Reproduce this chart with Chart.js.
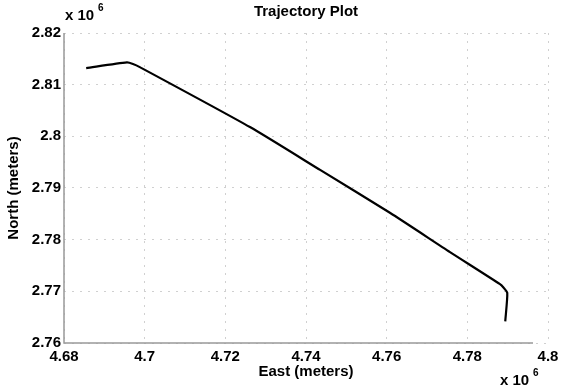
<!DOCTYPE html>
<html><head><meta charset="utf-8">
<script src="https://cdn.jsdelivr.net/npm/chart.js@4/dist/chart.umd.min.js"></script>
<style>html,body{margin:0;padding:0;background:#fff}#wrap{width:568px;height:389px}</style>
</head><body><div id="wrap"><canvas id="c" width="568" height="389"></canvas></div>
<script>
// East / North in units of 10^6 meters
const eastValues = [4.6855, 4.6956, 4.6971, 4.6988, 4.7261, 4.7435, 4.7608, 4.7757, 4.7881, 4.7889, 4.7899, 4.7894];
const northValues = [2.8132, 2.8143, 2.8140, 2.8134, 2.8018, 2.7935, 2.7852, 2.7776, 2.7714, 2.7708, 2.7697, 2.7642];
const xTicks = [4.68, 4.70, 4.72, 4.74, 4.76, 4.78, 4.80];
const yTicks = [2.76, 2.77, 2.78, 2.79, 2.80, 2.81, 2.82];
const titleText = 'Trajectory Plot';
const xTitle = 'East (meters)';
const yTitle = 'North (meters)';

const pts = eastValues.map((x, i) => ({x: x, y: northValues[i]}));
const FONT = '"Liberation Sans", Arial, sans-serif';
const fmt = v => String(parseFloat(Number(v).toFixed(2)));

const deco = {
  id: 'deco',
  afterDraw(chart) {
    const ctx = chart.ctx, a = chart.chartArea;
    ctx.save();
    ctx.fillStyle = '#000';
    ctx.font = 'bold 15px ' + FONT;
    ctx.textAlign = 'center'; ctx.textBaseline = 'middle';
    ctx.fillText(titleText, (a.left + a.right) / 2, 12);
    // exponent labels
    ctx.textAlign = 'left';
    ctx.fillText('x 10', a.left + 1, 16);
    ctx.font = 'bold 10px ' + FONT;
    ctx.fillText('6', a.left + 34, 8);
    ctx.font = 'bold 15px ' + FONT;
    ctx.fillText('x 10', 500, 381);
    ctx.font = 'bold 10px ' + FONT;
    ctx.fillText('6', 533, 373);
    // axis lines
    ctx.strokeStyle = '#999'; ctx.lineWidth = 1.5;
    ctx.beginPath();
    ctx.moveTo(a.left, a.top); ctx.lineTo(a.left, a.bottom); ctx.lineTo(a.right - 15, a.bottom);
    ctx.stroke();
    ctx.restore();
  }
};

new Chart(document.getElementById('c'), {
  type: 'scatter',
  data: { datasets: [{ data: pts, showLine: true, borderColor: '#000', borderWidth: 2.2,
    pointRadius: 0, tension: 0.2, fill: false }] },
  options: {
    responsive: false, animation: false,
    layout: { padding: { left: 0, right: 20, top: 33, bottom: 0 } },
    plugins: { legend: { display: false }, tooltip: { enabled: false }, title: { display: false } },
    scales: {
      x: {
        type: 'linear', min: 4.68, max: 4.80,
        afterBuildTicks: s => { s.ticks = xTicks.map(v => ({value: v})); },
        afterFit: s => { s.height = 46; },
        grid: { color: '#d0d0d0', lineWidth: 1, drawTicks: false },
        border: { display: false, dash: [2, 6] },
        ticks: { color: '#000', font: { family: FONT, size: 15, weight: 'bold' }, padding: 5, callback: v => fmt(v), maxRotation: 0 },
        title: { display: true, text: xTitle, color: '#000', font: { family: FONT, size: 15, weight: 'bold' }, padding: { top: 0, bottom: 8 } }
      },
      y: {
        type: 'linear', min: 2.76, max: 2.82,
        afterBuildTicks: s => { s.ticks = yTicks.map(v => ({value: v})); },
        afterFit: s => { s.width = 64; },
        grid: { color: '#d0d0d0', lineWidth: 1, drawTicks: false },
        border: { display: false, dash: [2, 6] },
        ticks: { color: '#000', font: { family: FONT, size: 15, weight: 'bold' }, padding: 3, callback: v => fmt(v) },
        title: { display: true, text: yTitle, color: '#000', font: { family: FONT, size: 15, weight: 'bold' }, padding: { top: 5, bottom: 0 } }
      }
    }
  },
  plugins: [deco]
});
</script></body></html>
